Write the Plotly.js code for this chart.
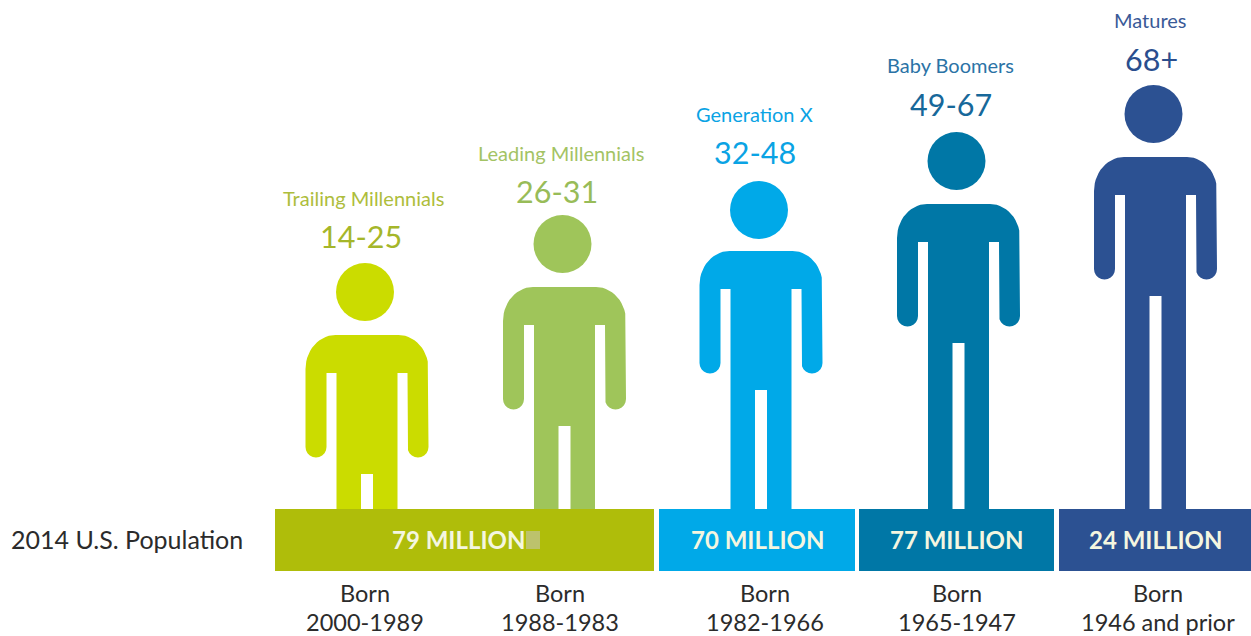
<!DOCTYPE html>
<html>
<head>
<meta charset="utf-8">
<script src="https://cdn.plot.ly/plotly-3.0.1.min.js"></script>
<style>html,body{margin:0;padding:0;background:#fff}#chart{width:1251px;height:636px}</style>
</head>
<body>
<div id="chart"></div>
<script>
// ---- data ----
const generations = ["Trailing Millennials", "Leading Millennials", "Generation X", "Baby Boomers", "Matures"];
const ageRanges = ["14-25", "26-31", "32-48", "49-67", "68+"];
const bornLine2 = ["2000-1989", "1988-1983", "1982-1966", "1965-1947", "1946 and prior"];
const figureHeights = [246, 294, 328, 377, 424];   // head-top height above the baseline
const populationMillions = [79, 70, 77, 24];

// ---- layout and styling ----
const BASE_PX = 509;
const py = p => BASE_PX - p;
const bodyCenters = [367, 564.5, 761, 958.5, 1155.5];
const headDiam = 58;
const neckGap = [72, 72, 70, 72, 72];
const figureColors = ["#cbdc00", "#9fc55a", "#00a9e8", "#0077a6", "#2c5192"];
const nameColors = ["#aebd3c", "#a3c364", "#0aa3e4", "#2b73a6", "#3a5a97"];
const ageColors = ["#a5b62a", "#98bc58", "#0aa3e4", "#17689a", "#2a4e8e"];
const namePos = [[363, 199], [561, 154], [754, 115], [950, 66], [1150, 21]];
const agePos = [[361, 237], [557, 192], [755, 153], [951, 105], [1151, 60]];
const bornX = [365, 560, 765, 957, 1158];
const barLeft = [275, 659, 859, 1059];
const barRight = [654, 855, 1054, 1251];
const barColors = ["#afbd0a", "#00a9e8", "#0077a6", "#2c5192"];
const barLabelX = [458, 757, 956, 1155];

function arc(cx, cy, rx, ry, a0, a1, n) {
  const pts = [];
  for (let i = 0; i <= n; i++) {
    const a = (a0 + (a1 - a0) * i / n) * Math.PI / 180;
    pts.push([cx + rx * Math.cos(a), cy + ry * Math.sin(a)]);
  }
  return pts;
}
function bodyOutline(cx, top) {
  const hw = 61.5, tw = 30.5, inner = 40.5, armR = 10.5, rx = 30, ry = 34;
  const armpit = top - 38, armEnd = top - 122.5 + armR, crotch = top - 139, legGap = 6;
  let p = [];
  p.push([cx - legGap, 0], [cx - legGap, crotch], [cx + legGap, crotch], [cx + legGap, 0], [cx + tw, 0]);
  p.push([cx + tw, armpit], [cx + inner, armpit]);
  p = p.concat(arc(cx + hw - armR, armEnd, armR, armR, 180, 360, 10));
  p = p.concat(arc(cx + hw - rx, top - ry, rx, ry, 0, 90, 14));
  p = p.concat(arc(cx - hw + rx, top - ry, rx, ry, 90, 180, 14));
  p = p.concat(arc(cx - hw + armR, armEnd, armR, armR, 180, 360, 10));
  p.push([cx - inner, armpit], [cx - tw, armpit], [cx - tw, 0], [cx - legGap, 0]);
  return p;
}

const traces = [];
generations.forEach((g, i) => {
  const bodyTop = figureHeights[i] - neckGap[i] ;
  const pts = bodyOutline(bodyCenters[i], bodyTop);
  traces.push({
    type: "scatter", mode: "lines", fill: "toself", fillcolor: figureColors[i],
    x: pts.map(q => q[0]), y: pts.map(q => q[1]),
    line: {width: 0, color: figureColors[i]}, hoverinfo: "skip", showlegend: false
  });
});
traces.push({
  type: "scatter", mode: "markers",
  x: bodyCenters.map(c => c - 2),
  y: figureHeights.map(h => h - headDiam / 2),
  marker: {size: headDiam, color: figureColors, line: {width: 0}},
  hoverinfo: "skip", showlegend: false
});
traces.push({
  type: "bar",
  x: barLeft.map((l, i) => (l + barRight[i]) / 2),
  width: barLeft.map((l, i) => barRight[i] - l),
  y: populationMillions.map(() => 62),
  base: -62,
  marker: {color: barColors, line: {width: 0}},
  hoverinfo: "skip", showlegend: false
});

const FONT = "Lato, sans-serif";
const ann = [];
const add = (text, x, yPx, size, color, extra) => ann.push(Object.assign({
  text, x, y: py(yPx), xref: "x", yref: "y", showarrow: false,
  xanchor: "center", yanchor: "middle", font: {family: FONT, size, color}
}, extra || {}));

generations.forEach((g, i) => {
  add(g, namePos[i][0], namePos[i][1] - 1, 20, nameColors[i]);
  add(ageRanges[i], agePos[i][0], agePos[i][1] - 1, 30.5, ageColors[i]);
  add("Born", bornX[i], 593, 23.5, "#2b2b2b");
  add(bornLine2[i], bornX[i], 621.5, 23.5, "#2b2b2b");
});
populationMillions.forEach((v, i) => {
  add(v + " MILLION", barLabelX[i], 539, 24, "#ffffff", {font: {family: FONT, size: 24, color: "#f4f6e0", weight: 700}});
});
add("2014 U.S. Population", 9, 539, 25, "#2b2b2b", {xanchor: "left"});

const layout = {
  width: 1251, height: 636,
  margin: {l: 0, r: 0, t: 0, b: 0},
  paper_bgcolor: "#ffffff", plot_bgcolor: "#ffffff",
  showlegend: false, bargap: 0,
  xaxis: {range: [0, 1251], visible: false, fixedrange: true},
  yaxis: {range: [py(636), py(0)], visible: false, fixedrange: true},
  annotations: ann,
  shapes: [{type: "rect", xref: "x", yref: "y", x0: 526, x1: 540, y0: py(549), y1: py(531),
            fillcolor: "#bcc26c", line: {width: 0}}]
};
Plotly.newPlot("chart", traces, layout, {displayModeBar: false, staticPlot: true});
</script>
</body>
</html>
